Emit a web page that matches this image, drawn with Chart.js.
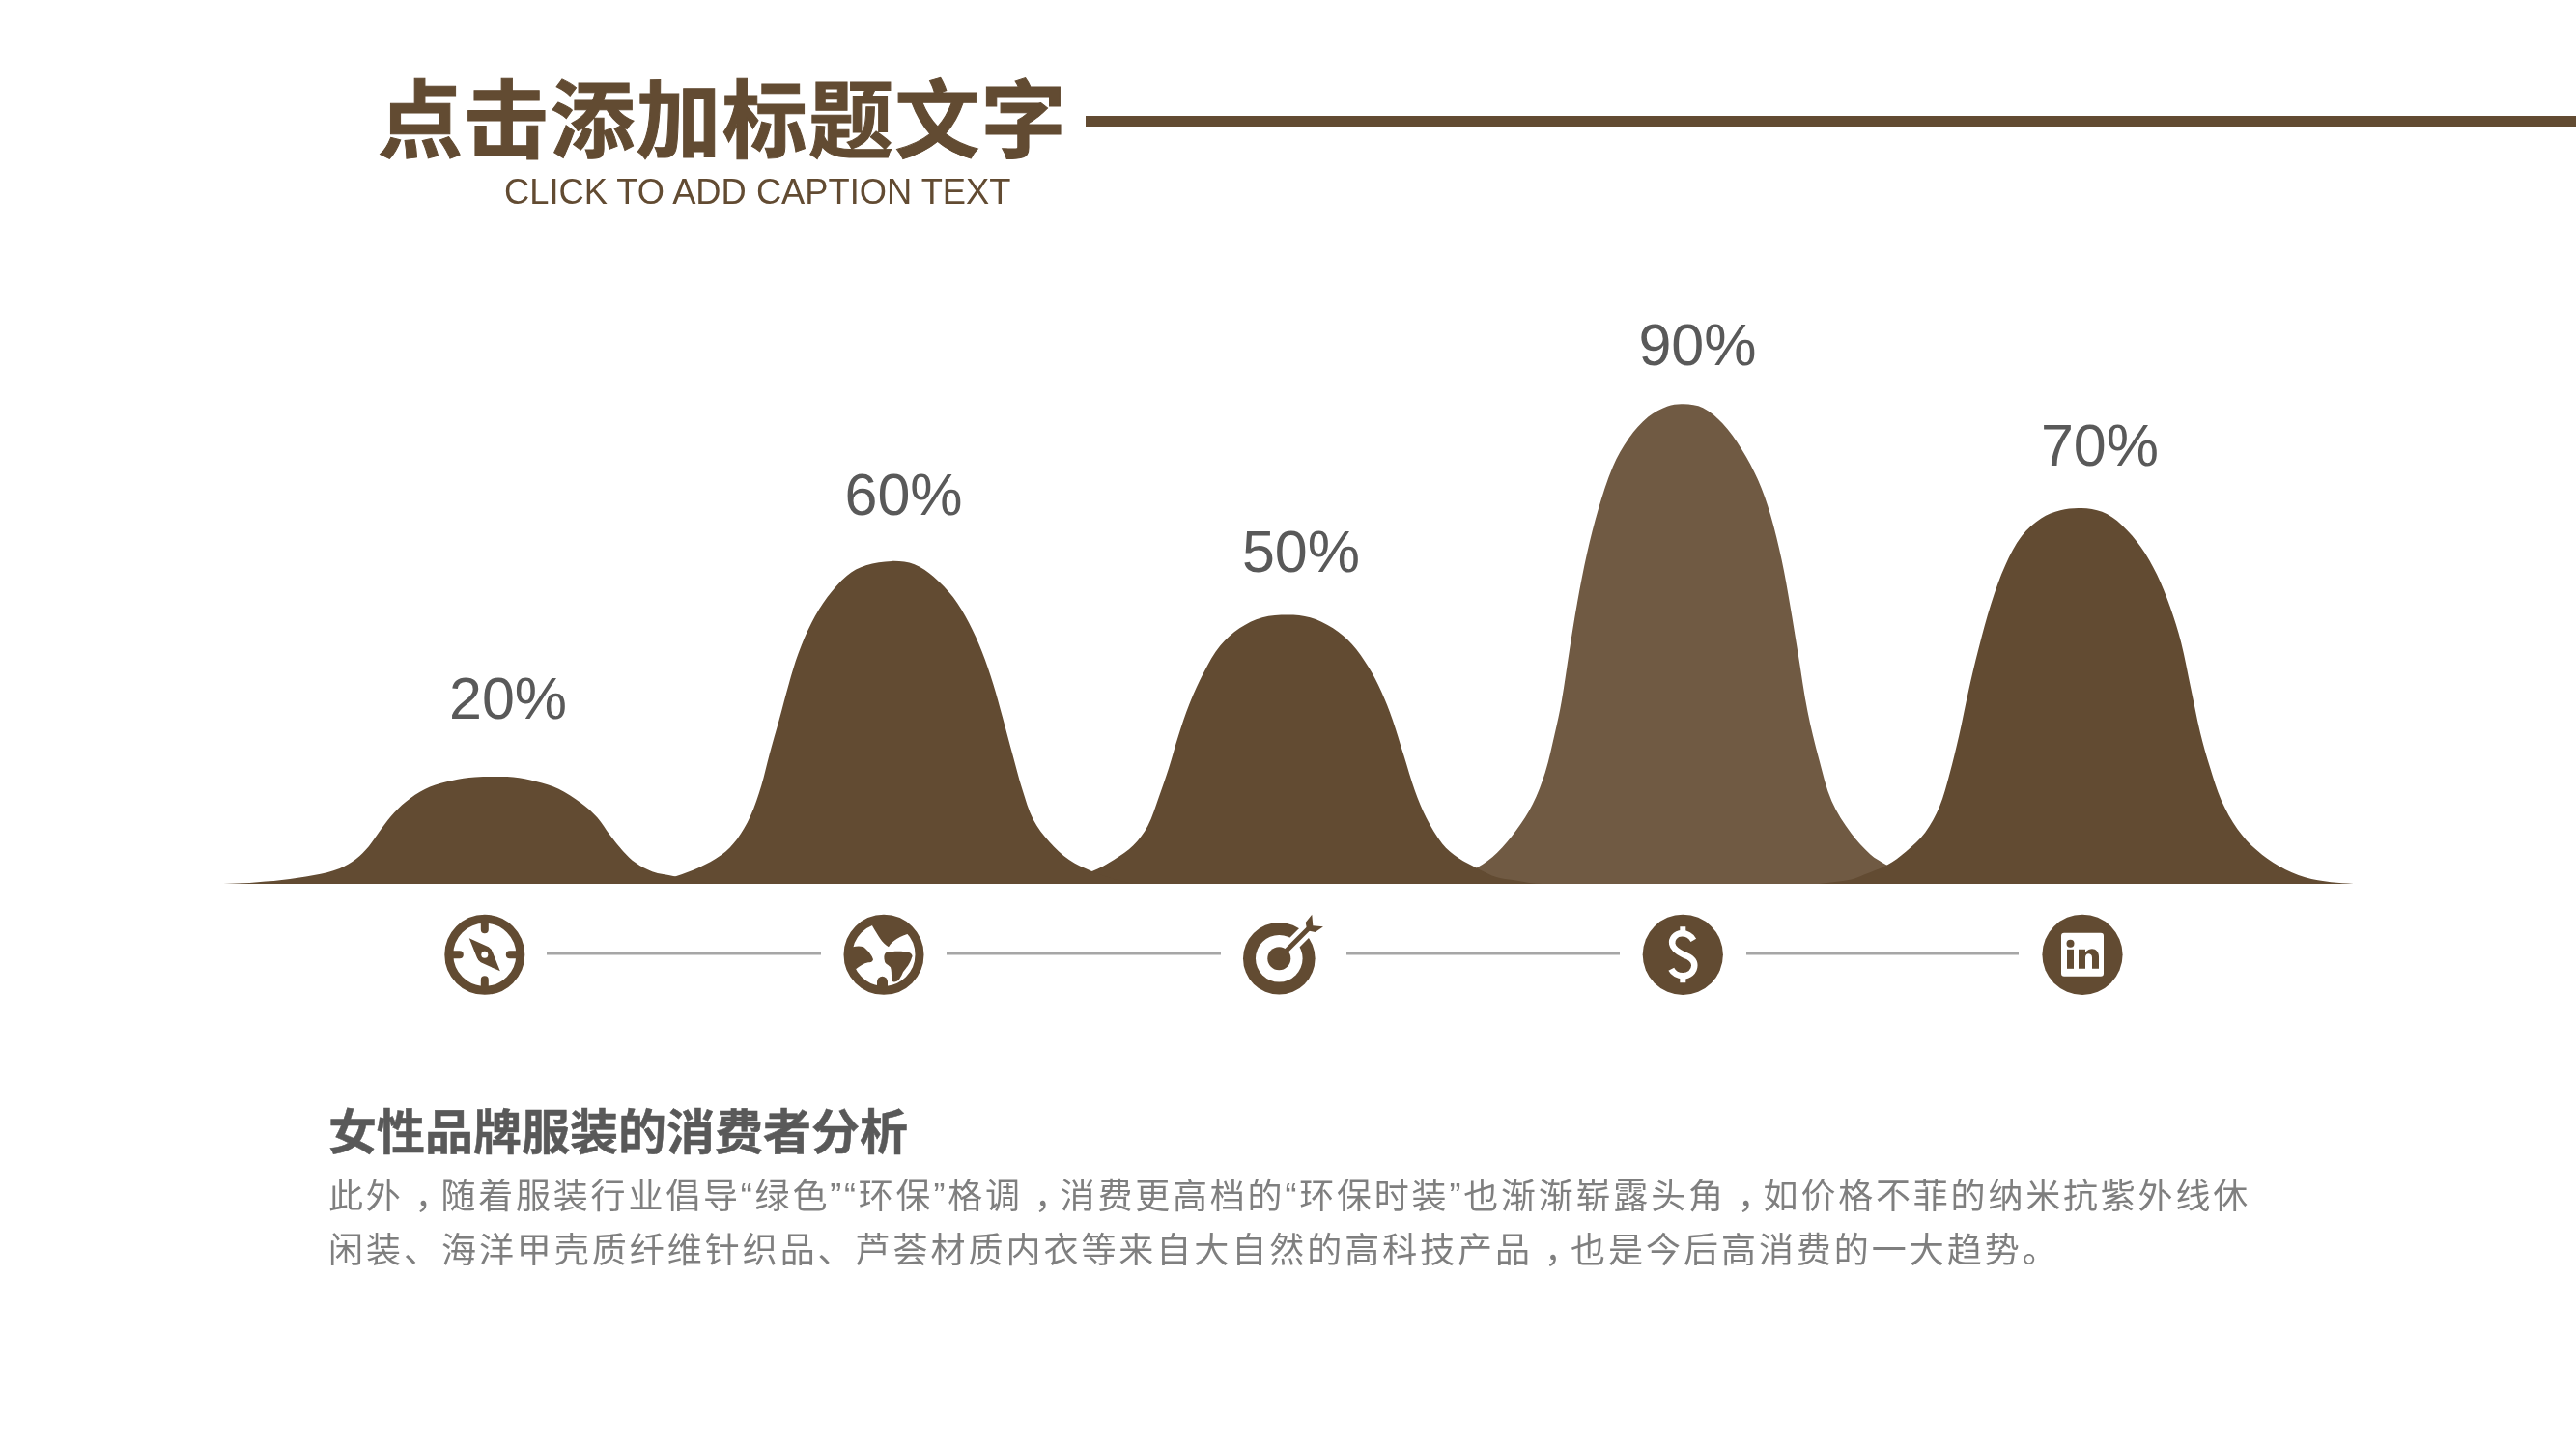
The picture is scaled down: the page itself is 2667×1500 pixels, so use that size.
<!DOCTYPE html>
<html>
<head>
<meta charset="utf-8">
<script src="https://cdn.jsdelivr.net/npm/chart.js@4"></script>
<style>
  html, body { margin: 0; padding: 0; background: #fff; }
  body { position: relative; width: 2667px; height: 1500px; overflow: hidden; }
  #chart { position: absolute; left: 0; top: 0; }
  #icons { position: absolute; left: 0; top: 0; }
  .txt { position: absolute; white-space: nowrap; }
  #title { left: 391px; top: 58px; font: 700 88px/120px "Noto Sans CJK SC"; letter-spacing: 1.2px; color: #624b32; -webkit-text-stroke: 1px #624b32; }
  #rule { position: absolute; left: 1124px; top: 120px; width: 1543px; height: 11px; background: #624b32; }
  #sub { left: 522px; top: 177px; font: 36.3px/44px "Liberation Sans"; color: #624b32; }
  #head { left: 340px; top: 1133px; font: 700 50px/70px "Noto Sans CJK SC"; color: #595959; -webkit-text-stroke: 0.5px #595959; }
  .body { left: 340px; font: 36px/56px "Liberation Sans", "Noto Sans CJK SC"; letter-spacing: 2.8px; color: #7f7f7f; }
  #l1 { top: 1211px; }
  #l2 { top: 1267px; letter-spacing: 2.97px; }
  .c { position: relative; left: 12px; }
</style>
</head>
<body>
<canvas id="chart" width="2667" height="1500"></canvas>
<div class="txt" id="title">点击添加标题文字</div>
<div id="rule"></div>
<div class="txt" id="sub">CLICK TO ADD CAPTION TEXT</div>
<div class="txt" id="head">女性品牌服装的消费者分析</div>
<div class="txt body" id="l1">此外<span class="c">&#xFF0C;</span>随着服装行业倡导“绿色”“环保”格调<span class="c">&#xFF0C;</span>消费更高档的“环保时装”也渐渐崭露头角<span class="c">&#xFF0C;</span>如价格不菲的纳米抗紫外线休</div>
<div class="txt body" id="l2">闲装、海洋甲壳质纤维针织品、芦荟材质内衣等来自大自然的高科技产品<span class="c">&#xFF0C;</span>也是今后高消费的一大趋势。</div>

<svg id="icons" width="2667" height="1500" viewBox="0 0 2667 1500">
  <!-- separators -->
  <g fill="#a6a6a6">
    <rect x="566" y="985.5" width="284" height="3"/>
    <rect x="980" y="985.5" width="284" height="3"/>
    <rect x="1394" y="985.5" width="283" height="3"/>
    <rect x="1808" y="985.5" width="282" height="3"/>
  </g>
  <!-- compass -->
  <g transform="translate(501.8 988.3)">
    <circle r="37" fill="#fff" stroke="#624b32" stroke-width="9"/>
    <g stroke="#624b32" stroke-width="8" stroke-linecap="round">
      <path d="M0 -34V-26M0 34V26M-34 0H-26M34 0H26"/>
    </g>
    <path d="M-16 -17 L4 -8 Q7 -6 8 -3 L16 17 L-4 8 Q-7 6 -8 3 Z" fill="#624b32"/>
    <circle r="3.5" fill="#fff"/>
  </g>
  <!-- globe -->
  <g transform="translate(915 988.3)">
    <circle r="37" fill="#fff" stroke="#624b32" stroke-width="9"/>
    <path d="M-12 -30 C-6 -20 -2 -12 5 -8 C8 -14 18 -20 27 -22 L14 -38 L-8 -38 Z" fill="#624b32"/>
    <path d="M-32 -8 C-28 -9 -24 -9 -21 -8 C-16 -4 -12 1 -11 5 C-12 8 -14 8 -16 8 C-21 9 -25 12 -29 15 L-38 8 L-38 -6 Z" fill="#624b32"/>
    <path d="M2 -2 C10 -4 20 -4 27 -2 C30 0 30 2 29 3 C27 10 23 14 20 18 C18 23 15 28 12 28 C8 29 8 26 8 25 C8 20 8 16 7 13 C4 10 1 9 1 7 C0 3 0 0 2 -2 Z" fill="#624b32"/>
    <path d="M-7 34 V28 A5.5 5.5 0 0 1 4 28 V34 Z" fill="#624b32"/>
  </g>
  <!-- target -->
  <g>
    <circle cx="1324.3" cy="992.3" r="37.3" fill="#624b32"/>
    <circle cx="1324.3" cy="992.3" r="24.3" fill="#fff"/>
    <path d="M1326 990 L1358 958" stroke="#fff" stroke-width="14"/>
    <circle cx="1324.3" cy="992.3" r="12" fill="#624b32"/>
    <path d="M1326 990 L1356 960" stroke="#624b32" stroke-width="5"/>
    <path d="M1351.7 955 L1358.3 946.7 L1359.3 958.3 L1370 959.3 L1361.7 965 L1353.3 963.3 Z" fill="#624b32"/>
  </g>
  <!-- dollar -->
  <g transform="translate(1742.3 988.3)">
    <circle r="41.6" fill="#624b32"/>
    <path d="M11 -15 C8 -20 3 -22 -1 -22 C-8 -22 -12 -16 -11 -11 C-10 -5 -3 -2 1 0 C7 2 12 5 12 11 C12 18 6 22 0 22 C-5 22 -10 19 -12 15" fill="none" stroke="#fff" stroke-width="6.5"/>
    <path d="M0 -29 V-21 M0 21 V29" stroke="#fff" stroke-width="6"/>
  </g>
  <!-- linkedin -->
  <g transform="translate(2156 988.3)">
    <circle r="41.6" fill="#624b32"/>
    <rect x="-22" y="-22.5" width="44" height="45" rx="3" fill="#fff"/>
    <circle cx="-12.5" cy="-11.5" r="4" fill="#624b32"/>
    <rect x="-16" y="-5.5" width="7" height="20" fill="#624b32"/>
    <path d="M-4 14.5 V-5.5 H3 V-2.5 C5 -5 8 -6 10 -6 C14 -6 17 -3 17 2 V14.5 H10 V3 C10 0 8 -1 6.5 -1 C4 -1 3 1 3 3 V14.5 Z" fill="#624b32"/>
  </g>
</svg>

<script>
// values: x = position along the row of humps, y = percent
const pctLabels = ["20%", "60%", "50%", "90%", "70%"];
const peakValues = [20, 60, 50, 90, 70];

const hump1X = [0.320, 0.386, 0.467, 0.548, 0.613, 0.653, 0.686, 0.718, 0.750, 0.791, 0.840, 0.896, 0.953, 1.000, 1.050, 1.107, 1.164, 1.220, 1.261, 1.293, 1.326, 1.358, 1.399, 1.455, 1.504, 1.552];
const hump1Y = [0.02, 0.2, 0.7, 1.6, 2.9, 4.6, 7.0, 10.3, 13.3, 16.0, 18.1, 19.3, 19.9, 20, 19.9, 19.1, 17.7, 15.1, 12.4, 9.1, 6.1, 3.9, 2.3, 1.4, 0.5, 0];

const hump2X = [1.362, 1.411, 1.458, 1.516, 1.573, 1.613, 1.646, 1.674, 1.694, 1.719, 1.743, 1.767, 1.800, 1.840, 1.889, 1.937, 2.002, 2.059, 2.107, 2.156, 2.196, 2.229, 2.257, 2.281, 2.306, 2.330, 2.358, 2.399, 2.448, 2.504, 2.561, 2.610];
const hump2Y = [0, 0.6, 1.4, 3.0, 5.4, 8.4, 12.6, 18.4, 24.1, 30.7, 37.3, 43.0, 48.7, 53.5, 57.5, 59.4, 60.2, 59.6, 57.3, 53.5, 48.7, 43.3, 37.3, 31.0, 24.1, 17.7, 12.0, 7.8, 4.5, 2.4, 0.9, 0];

const hump3X = [2.407, 2.456, 2.507, 2.561, 2.610, 2.646, 2.674, 2.699, 2.723, 2.751, 2.788, 2.828, 2.877, 2.934, 2.998, 3.055, 3.112, 3.160, 3.201, 3.233, 3.262, 3.290, 3.318, 3.347, 3.387, 3.428, 3.475, 3.525, 3.565, 3.606, 3.639];
const hump3Y = [0, 1.7, 2.4, 4.5, 7.2, 10.8, 16.2, 21.6, 27.6, 33.6, 39.6, 44.4, 47.7, 49.7, 50.2, 49.7, 47.7, 44.7, 40.5, 36.0, 30.6, 24.0, 17.4, 12.3, 7.5, 4.8, 2.9, 1.2, 0.7, 0.2, 0];

const hump4X = [3.354, 3.419, 3.474, 3.525, 3.573, 3.614, 3.646, 3.670, 3.687, 3.707, 3.727, 3.751, 3.780, 3.816, 3.857, 3.905, 3.954, 3.994, 4.043, 4.092, 4.140, 4.181, 4.213, 4.241, 4.262, 4.282, 4.306, 4.335, 4.367, 4.416, 4.464, 4.505, 4.553, 4.602];
const hump4Y = [0, 1.6, 3.0, 5.8, 10.0, 14.8, 20.8, 28.0, 34.0, 43.6, 52.6, 61.6, 70.0, 77.8, 83.2, 87.1, 89.1, 89.5, 88.8, 85.9, 81.1, 75.4, 68.8, 60.4, 52.0, 43.0, 32.2, 23.2, 15.4, 9.4, 5.5, 3.5, 1.3, 0];

const hump5X = [4.334, 4.416, 4.448, 4.506, 4.553, 4.602, 4.638, 4.663, 4.687, 4.711, 4.736, 4.768, 4.804, 4.845, 4.894, 4.942, 4.995, 5.047, 5.096, 5.145, 5.185, 5.218, 5.246, 5.270, 5.294, 5.319, 5.347, 5.388, 5.436, 5.493, 5.558, 5.623, 5.680];
const hump5Y = [0, 0.8, 1.7, 3.5, 6.0, 9.6, 14.4, 20.4, 27.6, 36.0, 43.8, 52.3, 59.5, 64.9, 68.2, 69.7, 70.1, 69.4, 67.0, 62.8, 57.7, 51.7, 45.0, 36.6, 28.2, 21.6, 15.6, 10.2, 6.3, 3.3, 1.2, 0.3, 0.02];

const humps = [[hump1X, hump1Y], [hump2X, hump2Y], [hump3X, hump3Y], [hump4X, hump4Y], [hump5X, hump5Y]];

const DARK = "#624b32";
const LIGHT = "#705a43"; // the 90% hump, sits under its neighbours
const labelOffX = [15, 13, 13, 12, 17];
const labelOffY = [-77, -66, -62, -54, -61];

const pctText = {
  id: "pctText",
  afterDatasetsDraw(chart) {
    const { ctx, scales } = chart;
    ctx.save();
    ctx.font = '61px "Liberation Sans"';
    ctx.fillStyle = "#595959";
    ctx.textAlign = "center";
    ctx.textBaseline = "middle";
    for (let i = 0; i < peakValues.length; i++) {
      const x = scales.x.getPixelForValue(i + 1) + labelOffX[i];
      const y = scales.y.getPixelForValue(peakValues[i]) + labelOffY[i];
      ctx.fillText(pctLabels[i], x, y);
    }
    ctx.restore();
  },
};

new Chart(document.getElementById("chart"), {
  type: "line",
  data: {
    datasets: humps.map(([xs, ys], i) => ({
      label: pctLabels[i],
      data: xs.map((x, k) => ({ x: x, y: ys[k] })),
      backgroundColor: i == 3 ? LIGHT : DARK,
      borderWidth: 0,
      pointRadius: 0,
      fill: "origin",
      tension: 0.34,
      order: i == 3 ? 5 : 1,
    })),
  },
  options: {
    responsive: false,
    animation: false,
    events: [],
    layout: { padding: { top: 360, bottom: 585, left: 0, right: 0 } },
    plugins: { legend: { display: false }, tooltip: { enabled: false } },
    scales: {
      x: { type: "linear", min: -0.2418, max: 6.2394, display: false },
      y: { min: 0, max: 100, display: false },
    },
  },
  plugins: [pctText],
});
</script>
</body>
</html>
